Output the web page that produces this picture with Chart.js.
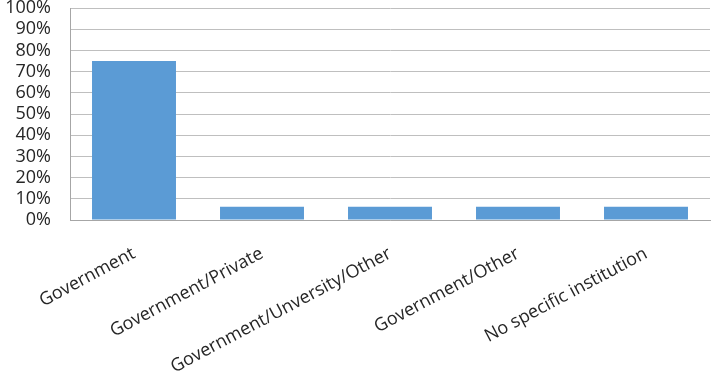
<!DOCTYPE html>
<html>
<head>
<meta charset="utf-8">
<script src="https://cdn.jsdelivr.net/npm/chart.js@4/dist/chart.umd.min.js"></script>
<style>
html,body{margin:0;padding:0;background:#fff;}
#wrap{width:711px;height:384px;}
</style>
</head>
<body>
<div id="wrap"><canvas id="c" width="711" height="384"></canvas></div>
<script>
const categories = ["Government", "Government/Private", "Government/Unversity/Other", "Government/Other", "No specific institution"];
const shares = [75, 6.25, 6.25, 6.25, 6.25];
const yTicks = [0, 10, 20, 30, 40, 50, 60, 70, 80, 90, 100];

const fontFam = "'Open Sans', 'Liberation Sans', sans-serif";
new Chart(document.getElementById('c'), {
  type: 'bar',
  data: {
    labels: categories,
    datasets: [{
      data: shares,
      backgroundColor: '#5B9BD5',
      borderWidth: 0,
      barPercentage: 0.656,
      categoryPercentage: 1.0
    }]
  },
  options: {
    responsive: false,
    animation: false,
    layout: { padding: { top: 8, right: 1, left: 0, bottom: 0 } },
    plugins: { legend: { display: false }, tooltip: { enabled: false } },
    scales: {
      x: {
        grid: { display: false, drawTicks: false },
        border: { display: true, color: '#a6a6a6', width: 1 },
        ticks: {
          minRotation: 28, maxRotation: 28,
          autoSkip: false,
          padding: 23,
          color: '#262626',
          font: { family: fontFam, size: 18 }
        },
        afterFit(s) { s.height = 164; s.paddingLeft = 0; s.paddingRight = 0; s.paddingTop = 0; s.paddingBottom = 0; }
      },
      y: {
        min: 0, max: 100,
        afterBuildTicks(s) { s.ticks = yTicks.map(v => ({ value: v })); },
        grid: { color: '#bfbfbf', drawTicks: false, lineWidth: 1 },
        border: { display: true, color: '#a6a6a6', width: 1 },
        ticks: {
          autoSkip: false,
          padding: 19,
          color: '#262626',
          font: { family: fontFam, size: 18 },
          callback: v => v + '%'
        },
        afterFit(s) { s.width = 70; s.paddingTop = 0; s.paddingBottom = 0; s.paddingLeft = 0; s.paddingRight = 0; }
      }
    }
  }
});
</script>
</body>
</html>
